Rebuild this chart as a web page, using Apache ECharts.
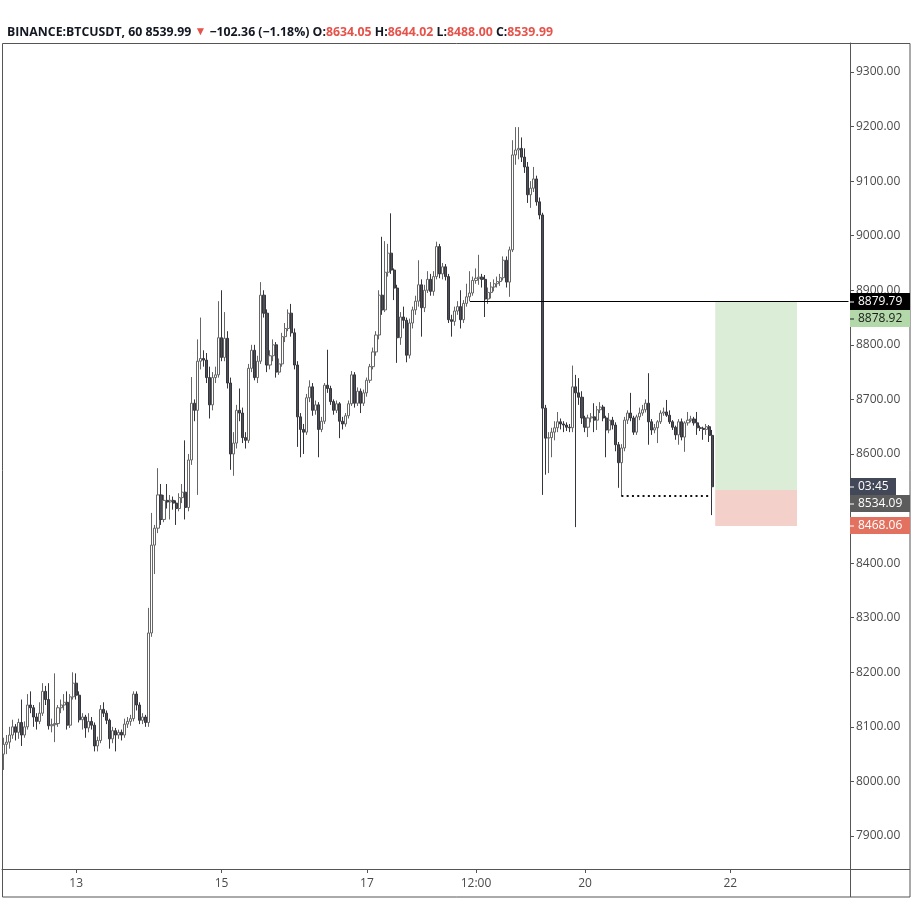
<!DOCTYPE html>
<html><head><meta charset="utf-8">
<script src="https://cdn.jsdelivr.net/npm/echarts@6/dist/echarts.min.js"></script>
<style>html,body{margin:0;padding:0;background:#fff}#c{width:917px;height:899px}</style>
</head><body><div id="c"></div>
<script>
// ---- data ----
const symbolName = 'BINANCE:BTCUSDT, 60';
const totalSlots = 280;               // hourly slots from Jan 12 00:00 (chart extends past last bar)
const tickLabels = {24:'13', 72:'15', 120:'17', 156:'12:00', 192:'20', 240:'22'};
const priceTicks = [7900,8000,8100,8200,8300,8400,8500,8600,8700,8800,8900,9000,9100,9200,9300];
// [open, close, low, high] per hour
const ohlc = [
[8050,8068,8021,8080],[8068,8072,8050,8085],[8072,8085,8060,8100],[8085,8100,8078,8113],[8100,8090,8075,8105],
[8090,8108,8078,8115],[8108,8085,8065,8150],[8085,8100,8080,8110],[8100,8140,8095,8160],[8140,8135,8125,8165],
[8135,8118,8100,8140],[8118,8110,8095,8125],[8110,8125,8105,8145],[8125,8165,8120,8180],[8165,8150,8140,8175],
[8150,8102,8095,8180],[8102,8104,8090,8115],[8104,8106,8072,8198],[8106,8135,8100,8140],[8135,8140,8125,8150],
[8140,8145,8130,8160],[8145,8103,8095,8165],[8103,8155,8098,8160],[8155,8180,8150,8200],[8180,8158,8150,8198],
[8158,8113,8108,8165],[8113,8118,8095,8125],[8118,8098,8080,8122],[8098,8110,8090,8125],[8110,8103,8095,8118],
[8103,8065,8055,8108],[8065,8075,8055,8082],[8075,8132,8070,8140],[8132,8125,8118,8145],[8125,8112,8105,8130],
[8112,8078,8060,8115],[8078,8093,8070,8100],[8093,8085,8055,8098],[8085,8090,8078,8095],[8090,8085,8075,8095],
[8085,8105,8080,8115],[8105,8110,8098,8118],[8110,8115,8102,8122],[8115,8160,8110,8165],[8160,8140,8130,8165],
[8140,8112,8105,8145],[8112,8118,8105,8125],[8118,8108,8100,8122],[8108,8272,8100,8318],[8272,8433,8265,8492],
[8433,8464,8380,8470],[8464,8525,8455,8574],[8525,8480,8470,8545],[8480,8515,8475,8525],[8515,8512,8500,8545],
[8512,8515,8480,8525],[8515,8510,8498,8522],[8510,8500,8470,8515],[8500,8520,8495,8528],[8520,8530,8510,8545],
[8530,8502,8480,8625],[8502,8589,8495,8600],[8589,8693,8580,8741],[8693,8680,8660,8700],[8680,8770,8525,8810],
[8770,8775,8755,8850],[8775,8772,8760,8790],[8772,8740,8730,8785],[8740,8690,8665,8760],[8690,8740,8680,8750],
[8740,8745,8730,8760],[8745,8813,8740,8880],[8813,8777,8770,8900],[8777,8812,8770,8860],[8812,8730,8720,8825],
[8730,8600,8571,8740],[8600,8620,8560,8640],[8620,8680,8610,8690],[8680,8675,8660,8720],[8675,8630,8620,8685],
[8630,8625,8610,8640],[8625,8757,8620,8765],[8757,8790,8750,8800],[8790,8740,8735,8800],[8740,8770,8730,8780],
[8770,8891,8765,8915],[8891,8858,8850,8900],[8858,8763,8750,8865],[8763,8780,8755,8790],[8780,8800,8770,8810],
[8800,8750,8740,8805],[8750,8765,8745,8775],[8765,8815,8760,8822],[8815,8830,8805,8840],[8830,8858,8825,8865],
[8858,8822,8815,8875],[8822,8763,8755,8830],[8763,8668,8613,8770],[8668,8645,8594,8675],[8645,8640,8600,8655],
[8640,8703,8635,8710],[8703,8723,8695,8735],[8723,8680,8670,8730],[8680,8690,8672,8698],[8690,8645,8594,8695],
[8645,8660,8640,8668],[8660,8726,8655,8730],[8726,8720,8712,8791],[8720,8696,8690,8725],[8696,8680,8672,8700],
[8680,8692,8675,8698],[8692,8660,8629,8695],[8660,8655,8645,8668],[8655,8670,8650,8675],[8670,8692,8665,8698],
[8692,8745,8688,8752],[8745,8693,8685,8750],[8693,8715,8688,8722],[8715,8693,8675,8720],[8693,8712,8688,8718],
[8712,8735,8705,8740],[8735,8760,8730,8765],[8760,8787,8755,8795],[8787,8818,8780,8825],[8818,8891,8810,8900],
[8891,8864,8855,8998],[8864,8933,8860,8990],[8933,8968,8925,8985],[8968,8937,8930,9041],[8937,8904,8882,8940],
[8904,8813,8767,8910],[8813,8851,8800,8860],[8851,8845,8830,8870],[8845,8781,8768,8850],[8781,8840,8775,8848],
[8840,8864,8830,8870],[8864,8880,8855,8890],[8880,8910,8870,8955],[8910,8868,8815,8920],[8868,8900,8860,8910],
[8900,8920,8895,8935],[8920,8898,8890,8930],[8898,8925,8890,8935],[8925,8980,8920,8989],[8980,8930,8922,8985],
[8930,8943,8920,8950],[8943,8925,8918,8948],[8925,8846,8840,8930],[8846,8843,8815,8855],[8843,8862,8835,8870],
[8862,8870,8855,8880],[8870,8846,8830,8900],[8846,8876,8840,8882],[8876,8888,8870,8912],[8888,8895,8880,8935],
[8895,8918,8890,8925],[8918,8922,8912,8940],[8922,8924,8910,8965],[8924,8920,8905,8930],[8920,8884,8851,8928],
[8884,8896,8875,8905],[8896,8906,8885,8915],[8906,8912,8898,8920],[8912,8916,8905,8925],[8916,8923,8908,8930],
[8923,8955,8918,8962],[8955,8915,8905,8962],[8915,8974,8888,8980],[8974,9148,8970,9175],[9148,9157,9130,9199],
[9157,9160,9140,9199],[9160,9144,9135,9180],[9144,9126,9115,9160],[9126,9075,9060,9135],[9075,9087,9051,9100],
[9087,9104,9080,9126],[9104,9062,9055,9110],[9062,9038,9030,9070],[9038,8684,8525,9042],[8684,8629,8562,8690],
[8629,8630,8565,8640],[8630,8640,8594,8648],[8640,8648,8625,8660],[8648,8659,8640,8677],[8659,8655,8645,8665],
[8655,8653,8640,8660],[8653,8649,8642,8658],[8649,8648,8640,8655],[8648,8723,8640,8762],[8723,8712,8466,8745],
[8712,8704,8690,8739],[8704,8666,8655,8715],[8666,8649,8640,8670],[8649,8666,8631,8672],[8666,8668,8658,8675],
[8668,8662,8640,8693],[8662,8681,8644,8688],[8681,8686,8675,8695],[8686,8666,8660,8690],[8666,8644,8594,8670],
[8644,8662,8638,8675],[8662,8653,8645,8668],[8653,8617,8605,8658],[8617,8584,8538,8622],[8584,8611,8523,8618],
[8611,8662,8605,8668],[8662,8675,8655,8680],[8675,8666,8660,8712],[8666,8640,8635,8670],[8640,8668,8635,8672],
[8668,8675,8662,8685],[8675,8681,8670,8690],[8681,8693,8676,8700],[8693,8659,8617,8748],[8659,8644,8635,8664],
[8644,8648,8638,8655],[8648,8659,8620,8662],[8659,8675,8655,8680],[8675,8677,8670,8685],[8677,8671,8668,8699],
[8671,8659,8655,8680],[8659,8649,8644,8662],[8649,8635,8626,8652],[8635,8659,8617,8664],[8659,8631,8625,8665],
[8631,8657,8604,8660],[8657,8662,8652,8677],[8662,8664,8658,8670],[8664,8657,8652,8668],[8657,8648,8635,8677],
[8648,8647,8642,8652],[8647,8645,8626,8650],[8645,8650,8635,8655],[8650,8634.05,8622,8653],[8634.05,8539.99,8488.00,8644.02]
];
const change = -102.36, changePct = -1.18;
const countdown = '03:45';
const resistance = 8879.79, resistanceFrom = 154;
const target = 8878.92, entry = 8534.09, stop = 8468.06;
const positionFrom = 235, positionTo = 262;
const swingLow = 8523, swingFrom = 204, swingTo = 233;

// ---- chart ----
const categories = [];
for (let i = 0; i < totalSlots; i++) categories.push(String(i));
const FONT = '"Open Sans", "Liberation Sans", sans-serif';
const last = ohlc[ohlc.length - 1];
const f2 = v => v.toFixed(2);
const sgn = v => (v < 0 ? '\u2212' : '+') + Math.abs(v).toFixed(2);
const GRID = {left: 2, right: 67, top: 43, bottom: 30};
const HFS = 12.3;

const chart = echarts.init(document.getElementById('c'), null, {renderer: 'canvas'});
chart.setOption({
  animation: false,
  backgroundColor: '#ffffff',
  title: {
    left: 2, top: 21,
    text: `{s|${symbolName}} {n|${f2(last[1])}} {r|\u25BC} {n|${sgn(change)} (${sgn(changePct)}%)} {k|O:}{v|${f2(last[0])}} {k|H:}{v|${f2(last[3])}} {k|L:}{v|${f2(last[2])}} {k|C:}{v|${f2(last[1])}}`,
    textStyle: {
      fontFamily: FONT, fontSize: HFS, color: '#131722',
      rich: {
        s: {fontFamily: FONT, fontSize: HFS, fontWeight: 'bold', color: '#131722'},
        n: {fontFamily: FONT, fontSize: HFS, color: '#131722'},
        r: {fontFamily: FONT, fontSize: 12, color: '#e5534b'},
        k: {fontFamily: FONT, fontSize: HFS, color: '#131722'},
        v: {fontFamily: FONT, fontSize: HFS, color: '#e5534b'}
      }
    }
  },
  grid: {left: GRID.left, right: GRID.right, top: GRID.top, bottom: GRID.bottom, show: false},
  xAxis: {
    type: 'category', data: categories, boundaryGap: true,
    axisLine: {show: true, lineStyle: {color: '#555', width: 1}},
    axisTick: {show: true, alignWithLabel: true, length: 4, interval: (i) => tickLabels[i] !== undefined, lineStyle: {color: '#555'}},
    axisLabel: {interval: (i) => tickLabels[i] !== undefined, formatter: (v, i) => tickLabels[i] || '', color: '#4a4a4a', fontFamily: FONT, fontSize: 12, margin: 9},
    splitLine: {show: false}
  },
  yAxis: {
    type: 'value', position: 'right', scale: true,
    min: 7839.5, max: 9353.1, splitNumber: 15, minInterval: 100, maxInterval: 100,
    axisLine: {show: true, lineStyle: {color: '#555', width: 1}},
    axisTick: {show: true, length: 4, lineStyle: {color: '#555'}},
    axisLabel: {color: '#4a4a4a', fontFamily: FONT, fontSize: 12, margin: 6,
      formatter: v => priceTicks.indexOf(Math.round(v)) >= 0 && Math.abs(v - Math.round(v)) < 1e-6 ? v.toFixed(2) : ''},
    splitLine: {show: false}
  },
  series: [{
    type: 'candlestick',
    data: ohlc,
    barWidth: 2.6,
    itemStyle: {color: '#ffffff', color0: '#4e4e56', borderColor: '#666666', borderColor0: '#35353d', borderWidth: 1},
    markArea: {
      silent: true,
      data: [
        [{xAxis: categories[positionFrom], yAxis: entry, itemStyle: {color: '#dcedd7'}}, {xAxis: categories[positionTo], yAxis: target}],
        [{xAxis: categories[positionFrom], yAxis: stop, itemStyle: {color: '#f4d0cb'}}, {xAxis: categories[positionTo], yAxis: entry}]
      ]
    },
    markLine: {
      silent: true, symbol: ['none', 'none'], label: {show: false},
      data: [
        [{coord: [categories[resistanceFrom], resistance], lineStyle: {color: '#000', width: 1, type: 'solid'}},
         {coord: [categories[totalSlots - 1], resistance]}],
        [{coord: [categories[swingFrom], swingLow], lineStyle: {color: '#111', width: 2, type: [2, 3.3]}},
         {coord: [categories[swingTo], swingLow]}]
      ]
    }
  }]
});

// price tags on the right scale, positioned from the axis
const W = 917, H = 899;
const axisX = W - GRID.right;            // 850
const outerRight = 910;
const yOf = v => chart.convertToPixel({yAxisIndex: 0}, v);
function tag(cy, text, bg, fg, width) {
  const top = Math.round(cy - 8.5);
  return [
    {type: 'rect', z: 100, zlevel: 1, shape: {x: axisX, y: top, width: width, height: 17}, style: {fill: bg}},
    {type: 'line', z: 101, zlevel: 1, shape: {x1: axisX, y1: top + 9, x2: axisX + 4, y2: top + 9}, style: {stroke: fg, lineWidth: 1}},
    {type: 'text', z: 102, zlevel: 1, x: axisX + 8, y: top + 9, style: {text: text, fill: fg, font: '12px ' + FONT, verticalAlign: 'middle', textVerticalAlign: 'middle'}}
  ];
}
const yRes = yOf(resistance), yLast = yOf(last[1]), yStop = yOf(stop);
chart.setOption({
  graphic: [
    {type: 'rect', z: 90, shape: {x: 2.5, y: 43.5, width: outerRight - 2.5, height: H - 2 - 43.5}, style: {fill: 'none', stroke: '#555', lineWidth: 1}},
    {type: 'line', z: 90, shape: {x1: axisX, y1: H - GRID.bottom + 0.5, x2: outerRight, y2: H - GRID.bottom + 0.5}, style: {stroke: '#555', lineWidth: 1}},
    {type: 'line', z: 90, shape: {x1: axisX + 0.5, y1: H - GRID.bottom, x2: axisX + 0.5, y2: H - 2}, style: {stroke: '#555', lineWidth: 1}}
  ].concat(
    tag(yRes, f2(resistance), '#000000', '#ffffff', outerRight - axisX),
    tag(yRes + 17, f2(target), '#b3d9aa', '#1a1a1a', outerRight - axisX),
    tag(yLast, countdown, '#434859', '#ffffff', 46),
    tag(yLast + 17, f2(entry), '#5c5c5c', '#ffffff', outerRight - axisX),
    tag(yStop, f2(stop), '#e2725f', '#ffffff', outerRight - axisX)
  )
});
</script></body></html>
